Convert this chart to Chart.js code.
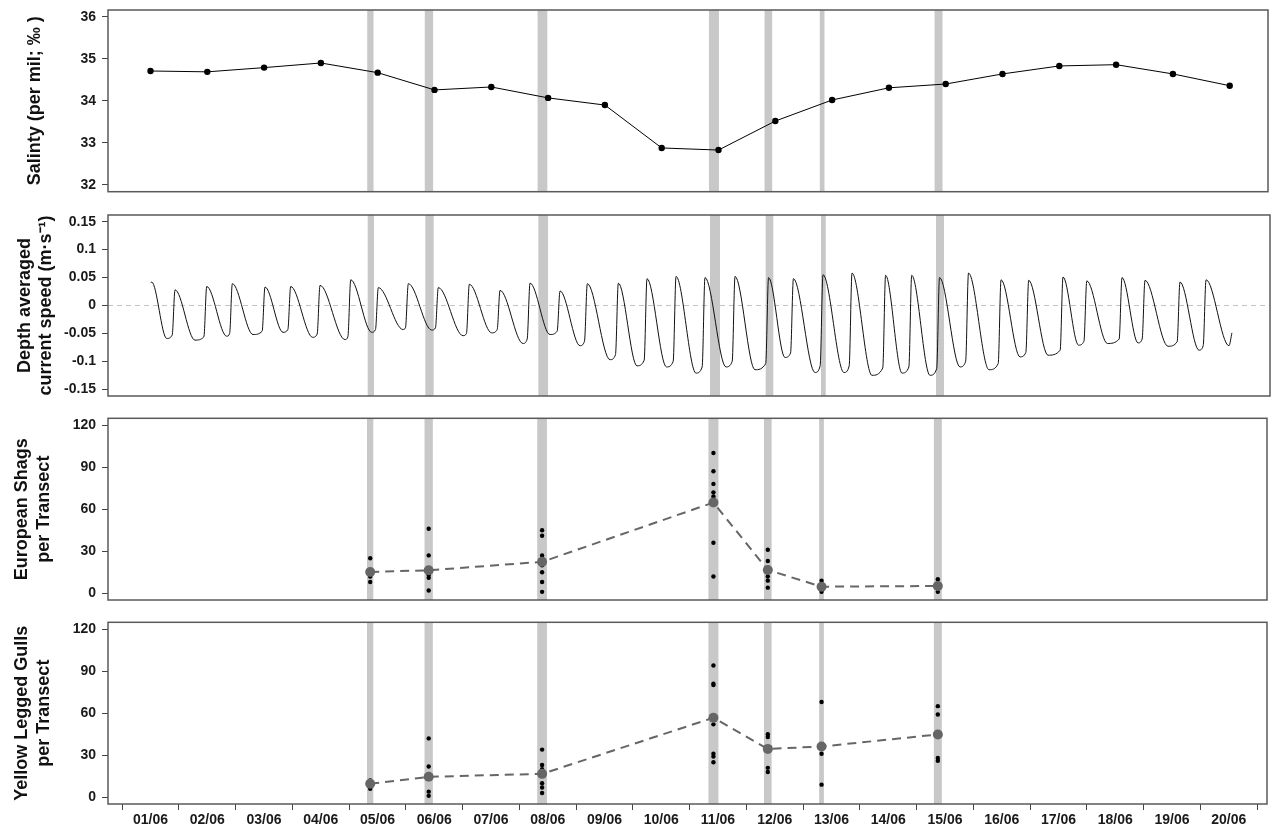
<!DOCTYPE html>
<html>
<head>
<meta charset="utf-8">
<script src="https://cdn.jsdelivr.net/npm/chart.js@4.4.1/dist/chart.umd.min.js"></script>
<style>
  html, body { margin: 0; padding: 0; background: #fff; }
  #wrap { position: relative; width: 1272px; height: 826px; overflow: hidden; }
  #wrap canvas { position: absolute; left: 0; }
</style>
</head>
<body>
<div id="wrap">
  <canvas id="salinity" width="1272" height="222" style="top:-10px"></canvas>
  <canvas id="current" width="1272" height="221" style="top:195px"></canvas>
  <canvas id="shags" width="1272" height="222" style="top:398px"></canvas>
  <canvas id="gulls" width="1272" height="224" style="top:602px"></canvas>
</div>
<script>
// ---- Data (time = days since 01/06 00:00) ----
const dayLabels = ['01/06', '02/06', '03/06', '04/06', '05/06', '06/06', '07/06', '08/06', '09/06', '10/06',
                   '11/06', '12/06', '13/06', '14/06', '15/06', '16/06', '17/06', '18/06', '19/06', '20/06'];

const salTicks = [32, 33, 34, 35, 36];
const curTicks = [-0.15, -0.1, -0.05, 0, 0.05, 0.1, 0.15];
const curTickLabels = ['-0.15', '-0.1', '-0.05', '0', '0.05', '0.1', '0.15'];
const countTicks = [0, 30, 60, 90, 120];

const salTime = [0.5, 1.5, 2.5, 3.5, 4.5, 5.5, 6.5, 7.5, 8.5, 9.5,
                 10.5, 11.5, 12.5, 13.5, 14.5, 15.5, 16.5, 17.5, 18.5, 19.5];
const salValues = [34.71, 34.69, 34.79, 34.90, 34.67, 34.26, 34.33, 34.07, 33.90, 32.88,
                   32.83, 33.52, 34.02, 34.31, 34.40, 34.64, 34.83, 34.86, 34.64, 34.36];

const curTime = [
  0.499, 0.520, 0.784, 0.880, 0.930, 1.281, 1.437, 1.487, 1.838, 1.890,
  1.937, 2.301, 2.461, 2.511, 2.828, 2.913, 2.963, 3.350, 3.428, 3.478,
  3.917, 3.968, 4.018, 4.387, 4.453, 4.503, 4.937, 4.980, 5.030, 5.441,
  5.507, 5.557, 5.991, 6.052, 6.102, 6.496, 6.592, 6.642, 7.046, 7.119,
  7.169, 7.520, 7.646, 7.696, 8.048, 8.126, 8.176, 8.575, 8.671, 8.721,
  9.049, 9.175, 9.225, 9.568, 9.685, 9.735, 10.086, 10.194, 10.244, 10.613,
  10.722, 10.772, 11.123, 11.311, 11.361, 11.650, 11.748, 11.798, 12.178, 12.268,
  12.318, 12.687, 12.778, 12.828, 13.179, 13.368, 13.418, 13.707, 13.827, 13.877,
  14.199, 14.316, 14.366, 14.726, 14.825, 14.875, 15.236, 15.397, 15.447, 15.781,
  15.883, 15.933, 16.273, 16.486, 16.536, 16.809, 16.904, 16.954, 17.318, 17.523,
  17.573, 17.855, 17.927, 17.977, 18.382, 18.542, 18.592, 18.927, 19.000, 19.050,
  19.453, 19.505
];
const curSpeed = [
  0.040, 0.042, -0.059, -0.053, 0.028, -0.062, -0.056, 0.034, -0.055, -0.050,
  0.039, -0.052, -0.046, 0.033, -0.048, -0.043, 0.034, -0.057, -0.051, 0.036,
  -0.061, -0.056, 0.046, -0.048, -0.043, 0.032, -0.043, -0.040, 0.039, -0.044,
  -0.040, 0.032, -0.054, -0.050, 0.038, -0.049, -0.043, 0.027, -0.068, -0.060,
  0.040, -0.052, -0.046, 0.026, -0.072, -0.064, 0.039, -0.097, -0.088, 0.040,
  -0.108, -0.098, 0.048, -0.110, -0.100, 0.052, -0.121, -0.110, 0.050, -0.110,
  -0.100, 0.052, -0.115, -0.104, 0.050, -0.093, -0.085, 0.048, -0.120, -0.108,
  0.055, -0.120, -0.108, 0.058, -0.125, -0.112, 0.054, -0.121, -0.110, 0.054,
  -0.125, -0.113, 0.050, -0.110, -0.100, 0.058, -0.115, -0.104, 0.046, -0.092,
  -0.084, 0.045, -0.089, -0.080, 0.051, -0.071, -0.064, 0.044, -0.068, -0.060,
  0.050, -0.067, -0.060, 0.045, -0.073, -0.065, 0.042, -0.080, -0.072, 0.046,
  -0.072, -0.049
];

// survey windows (grey bands) and their mid times
const bandStart = [4.316, 5.329, 7.315, 10.332, 11.311, 12.283, 14.304];
const bandEnd = [4.427, 5.476, 7.486, 10.508, 11.445, 12.366, 14.444];
const surveyTime = [4.372, 5.403, 7.401, 10.420, 11.378, 12.325, 14.374];

const shagMean = [15.2, 16.4, 22.4, 64.7, 16.6, 4.7, 5.2];
const shagCounts = [
  [25, 16, 12, 8],
  [46, 27, 14, 13, 11, 2],
  [45, 41, 27, 24, 20, 15, 8, 1],
  [100, 87, 78, 72, 69, 36, 12],
  [31, 23, 15, 12, 9, 4],
  [9, 5, 1],
  [10, 6, 4, 1]
];
const gullMean = [9.6, 14.6, 16.7, 56.7, 34.5, 36.2, 44.8];
const gullCounts = [
  [12, 9, 6],
  [42, 22, 4, 1],
  [34, 23, 20, 17, 10, 7, 3],
  [94, 81, 80, 52, 31, 29, 25],
  [45, 43, 21, 18],
  [68, 31, 9],
  [65, 59, 28, 26]
];

// ---- Shared styling ----
const X_MIN = -0.248, X_MAX = 20.174;
const FONT = "'Liberation Sans', Arial, Helvetica, sans-serif";
const tickFont = { family: FONT, size: 14, weight: 'bold' };
const titleFont = { family: FONT, size: 18, weight: 'bold', lineHeight: 1.2 };

// tick positions on the bottom axis: day edges get a tick mark, noon gets the label
const xTicks = [];
dayLabels.forEach((_, i) => { xTicks.push(i, i + 0.5); });
xTicks.push(dayLabels.length);

const panelDecor = {
  id: 'panelDecor',
  beforeDatasetsDraw(chart, args, opts) {
    const { ctx, chartArea: a, scales: { x, y } } = chart;
    ctx.save();
    if (opts.zeroLine) {
      const py = y.getPixelForValue(0);
      ctx.strokeStyle = '#c4c4c4';
      ctx.lineWidth = 1;
      ctx.setLineDash([5, 4]);
      ctx.beginPath();
      ctx.moveTo(a.left, py);
      ctx.lineTo(a.right, py);
      ctx.stroke();
      ctx.setLineDash([]);
    }
    ctx.fillStyle = '#c8c8c8';
    bandStart.forEach((s, i) => {
      const x0 = x.getPixelForValue(s);
      const x1 = x.getPixelForValue(bandEnd[i]);
      ctx.fillRect(x0, a.top, x1 - x0, a.bottom - a.top);
    });
    ctx.restore();
  },
  afterDatasetsDraw(chart) {
    const { ctx, chartArea: a } = chart;
    ctx.save();
    ctx.strokeStyle = '#5a5a5a';
    ctx.lineWidth = 1.5;
    ctx.strokeRect(a.left, a.top, a.right - a.left, a.bottom - a.top);
    ctx.restore();
  }
};

function yAxis(min, max, ticks, title, titlePad, labels) {
  return {
    min, max,
    afterFit: s => { s.width = 108; },
    afterBuildTicks: s => { s.ticks = ticks.map(v => ({ value: v })); },
    grid: { drawOnChartArea: false, drawTicks: true, tickLength: 6, tickColor: '#444' },
    border: { display: false },
    ticks: {
      color: '#1a1a1a', font: tickFont, padding: 6,
      callback: (v, i) => labels ? labels[i] : v
    },
    title: { display: true, text: title, color: '#111', font: titleFont, padding: { top: titlePad, bottom: 0 } }
  };
}

function xAxis(show) {
  return {
    type: 'linear', min: X_MIN, max: X_MAX, display: show,
    afterBuildTicks: s => { s.ticks = xTicks.map(v => ({ value: v })); },
    afterFit: s => { s.height = show ? 22 : 0; },
    grid: {
      drawOnChartArea: false, tickLength: 6,
      tickColor: c => (c.tick && Number.isInteger(c.tick.value)) ? '#444' : 'rgba(0,0,0,0)'
    },
    border: { display: false },
    ticks: {
      autoSkip: false, maxRotation: 0, minRotation: 0, font: tickFont, color: '#1a1a1a', padding: 2,
      callback: v => Number.isInteger(v) ? '' : dayLabels[Math.floor(v)]
    }
  };
}

function baseOptions(pad, y, showX, zeroLine) {
  return {
    responsive: false,
    animation: false,
    layout: { padding: { top: pad[0], bottom: pad[1], left: 0, right: 2 } },
    plugins: { legend: { display: false }, tooltip: { enabled: false }, panelDecor: { zeroLine } },
    scales: { x: xAxis(showX), y }
  };
}

function countDatasets(means, counts) {
  return [
    {
      data: surveyTime.map((t, i) => ({ x: t, y: means[i] })),
      showLine: true,
      borderColor: '#666', borderWidth: 2, borderDash: [9, 6],
      pointRadius: 5, pointBackgroundColor: '#666', pointBorderWidth: 0
    },
    {
      data: surveyTime.flatMap((t, i) => counts[i].map(v => ({ x: t, y: v }))),
      pointRadius: 2.2, pointBackgroundColor: '#000', pointBorderWidth: 0
    }
  ];
}

// ---- Charts ----
new Chart(document.getElementById('salinity'), {
  type: 'scatter',
  data: {
    datasets: [{
      data: salTime.map((t, i) => ({ x: t, y: salValues[i] })),
      showLine: true, borderColor: '#000', borderWidth: 1,
      pointRadius: 3.2, pointBackgroundColor: '#000', pointBorderWidth: 0
    }]
  },
  options: baseOptions([20, 20.3], yAxis(31.84, 36.16, salTicks, 'Salinty (per mil; ‰ )', 24), false, false),
  plugins: [panelDecor]
});

new Chart(document.getElementById('current'), {
  type: 'scatter',
  data: {
    datasets: [{
      data: curTime.map((t, i) => ({ x: t, y: curSpeed[i] })),
      showLine: true, borderColor: '#111', borderWidth: 1, pointRadius: 0,
      cubicInterpolationMode: 'monotone'
    }]
  },
  options: baseOptions([20, 20], yAxis(-0.162, 0.162, curTicks,
    ['Depth averaged', 'current speed (m·s⁻¹)'], 14, curTickLabels), false, true),
  plugins: [panelDecor]
});

new Chart(document.getElementById('shags'), {
  type: 'scatter',
  data: { datasets: countDatasets(shagMean, shagCounts) },
  options: baseOptions([20.3, 20], yAxis(-4.8, 124.8, countTicks, ['European Shags', 'per Transect'], 11.5), false, false),
  plugins: [panelDecor]
});

new Chart(document.getElementById('gulls'), {
  type: 'scatter',
  data: { datasets: countDatasets(gullMean, gullCounts) },
  options: baseOptions([20.3, 0], yAxis(-4.8, 124.8, countTicks, ['Yellow Legged Gulls', 'per Transect'], 11.5), true, false),
  plugins: [panelDecor]
});
</script>
</body>
</html>
